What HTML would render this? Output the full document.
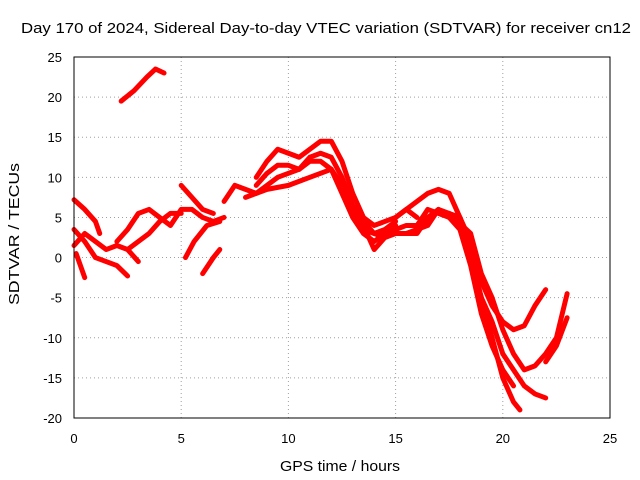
<!DOCTYPE html>
<html><head><meta charset="utf-8"><style>
body{margin:0;background:#fff;}
svg{display:block;font-family:"Liberation Sans",sans-serif;}
</style></head><body>
<svg id="chart" width="640" height="480">
<rect width="640" height="480" fill="#fff"/>
<text x="326" y="33" text-anchor="middle" font-size="15" textLength="610" lengthAdjust="spacingAndGlyphs">Day 170 of 2024, Sidereal Day-to-day VTEC variation (SDTVAR) for receiver cn12</text>
<text x="340" y="471" text-anchor="middle" font-size="15" textLength="120" lengthAdjust="spacingAndGlyphs">GPS time / hours</text>
<text transform="translate(19,234) rotate(-90)" text-anchor="middle" font-size="15" textLength="142" lengthAdjust="spacingAndGlyphs">SDTVAR / TECUs</text>
<g id="grid"></g><g id="ticks"></g><g id="series"></g>
<rect x="74" y="57" width="536" height="361" fill="none" stroke="#000" stroke-width="1"/>
</svg>
<script>
const xTicks=[0,5,10,15,20,25];
const yTicks=[25,20,15,10,5,0,-5,-10,-15,-20];
const trackA=[[0,7.2],[0.5,6],[1,4.5],[1.2,3]];
const trackB=[[0,3.5],[0.5,2],[1,0],[1.5,-0.5],[2,-1],[2.5,-2.3]];
const trackC=[[0,1.5],[0.5,3],[1,2],[1.5,1],[2,1.5],[2.5,1],[3,-0.5]];
const trackD=[[0.1,0.5],[0.3,-1],[0.5,-2.5]];
const trackTop=[[2.2,19.5],[2.8,20.8],[3.4,22.5],[3.8,23.5],[4.2,23]];
const trackE=[[2,2],[2.5,3.5],[3,5.5],[3.5,6],[4,5],[4.5,4],[5,6],[5.5,6],[6,5],[6.5,4.5],[7,5]];
const trackF=[[2.5,1],[3,2],[3.5,3],[4,4.5],[4.5,5.5],[5,5.5]];
const trackG=[[5,9],[5.5,7.5],[6,6],[6.5,5.5]];
const trackH=[[5.2,0],[5.6,2],[6.2,4],[6.8,4.5]];
const trackI=[[6,-2],[6.5,0],[6.8,1]];
const trackJ=[[7,7],[7.5,9],[8,8.5],[8.5,8],[9,9],[9.5,10],[10,10.5],[10.5,11],[11,12],[11.5,12],[12,11],[12.5,8],[13,5],[13.5,3],[14,2],[14.5,3],[15,4]];
const trackK=[[8.5,10],[9,12],[9.5,13.5],[10,13],[10.5,12.5],[11,13.5],[11.5,14.5],[12,14.5],[12.5,12],[13,8],[13.5,5],[14,4],[14.5,4.5],[15,5],[15.5,6],[16,5]];
const trackL=[[8,7.5],[9,8.5],[10,9],[11,10],[12,11],[12.5,9],[13,6],[13.5,4],[14,1],[14.5,2.5],[15,3],[15.5,3],[16,3],[16.5,5],[17,6],[17.5,5],[18,4],[18.5,0],[19,-5],[19.5,-10],[20,-15],[20.5,-18],[20.8,-19]];
const trackM=[[15,5],[15.5,6],[16,7],[16.5,8],[17,8.5],[17.5,8],[18,5],[18.5,2],[19,-3],[19.5,-6],[20,-8],[20.5,-9],[21,-8.5],[21.5,-6],[22,-4]];
const trackN=[[15.5,3],[16.5,4],[17,6],[18,5],[18.5,0],[19,-5],[19.5,-8],[20,-12],[20.5,-14],[21,-16],[21.5,-17],[22,-17.5]];
const trackO=[[17.5,5.5],[18.5,3],[19,-2],[19.5,-5],[20,-9],[20.5,-12],[21,-14],[21.5,-13.5],[22,-12],[22.5,-10],[23,-4.5]];
const trackP=[[22,-13],[22.5,-11],[23,-7.5]];
const trackQ=[[8.5,9],[9,10.5],[9.5,11.5],[10,11.5],[10.5,11],[11,12.5],[11.5,13],[12,12.5],[12.5,10],[13,6.5],[13.5,4.5],[14,3],[14.5,3.5],[15,4.5]];
const trackR=[[13.5,3.5],[14,3],[14.5,2.5],[15,3.5],[15.5,4],[16,4],[16.5,6],[17,5.5],[17.5,5],[18,3.5],[18.5,-1],[19,-7],[19.5,-11],[20,-14],[20.5,-16]];
const tracks=[trackA,trackB,trackC,trackD,trackTop,trackE,trackF,trackG,trackH,trackI,trackJ,trackK,trackL,trackM,trackN,trackO,trackP,trackQ,trackR];

const NS="http://www.w3.org/2000/svg";
const X0=74,X1=610,Y0=418,Y1=57;
function sx(h){return X0+(h-0)/(25-0)*(X1-X0);}
function sy(v){return Y0-(v+20)/45*(Y0-Y1);}
const grid=document.getElementById('grid'),ticks=document.getElementById('ticks'),series=document.getElementById('series');
function mk(tag,attrs,parent){const e=document.createElementNS(NS,tag);for(const k in attrs)e.setAttribute(k,attrs[k]);parent.appendChild(e);return e;}
xTicks.forEach(t=>{
  const x=sx(t);
  if(t>0&&t<25){const g=mk('line',{x1:x,x2:x,y1:Y1,y2:Y0,stroke:'#a0a0a0','stroke-dasharray':'1,3'},grid);
  
  }
  const l=mk('text',{x:x,y:443,'text-anchor':'middle','font-size':'13'},ticks);l.textContent=t;
  
  
});
yTicks.forEach(t=>{
  const y=sy(t);
  if(t>-20&&t<25){const g=mk('line',{x1:X0,x2:X1,y1:y,y2:y,stroke:'#a0a0a0','stroke-dasharray':'1,3'},grid);
  
  }
  const l=mk('text',{x:62,y:y+5,'text-anchor':'end','font-size':'13'},ticks);l.textContent=t;
  
  
});
tracks.forEach(tr=>{
  const p=mk('polyline',{points:tr.map(d=>sx(d[0])+','+sy(d[1])).join(' '),fill:'none',stroke:'#ff0000','stroke-width':'5','stroke-linejoin':'round','stroke-linecap':'round'},series);
  
  
});
</script>
</body></html>
